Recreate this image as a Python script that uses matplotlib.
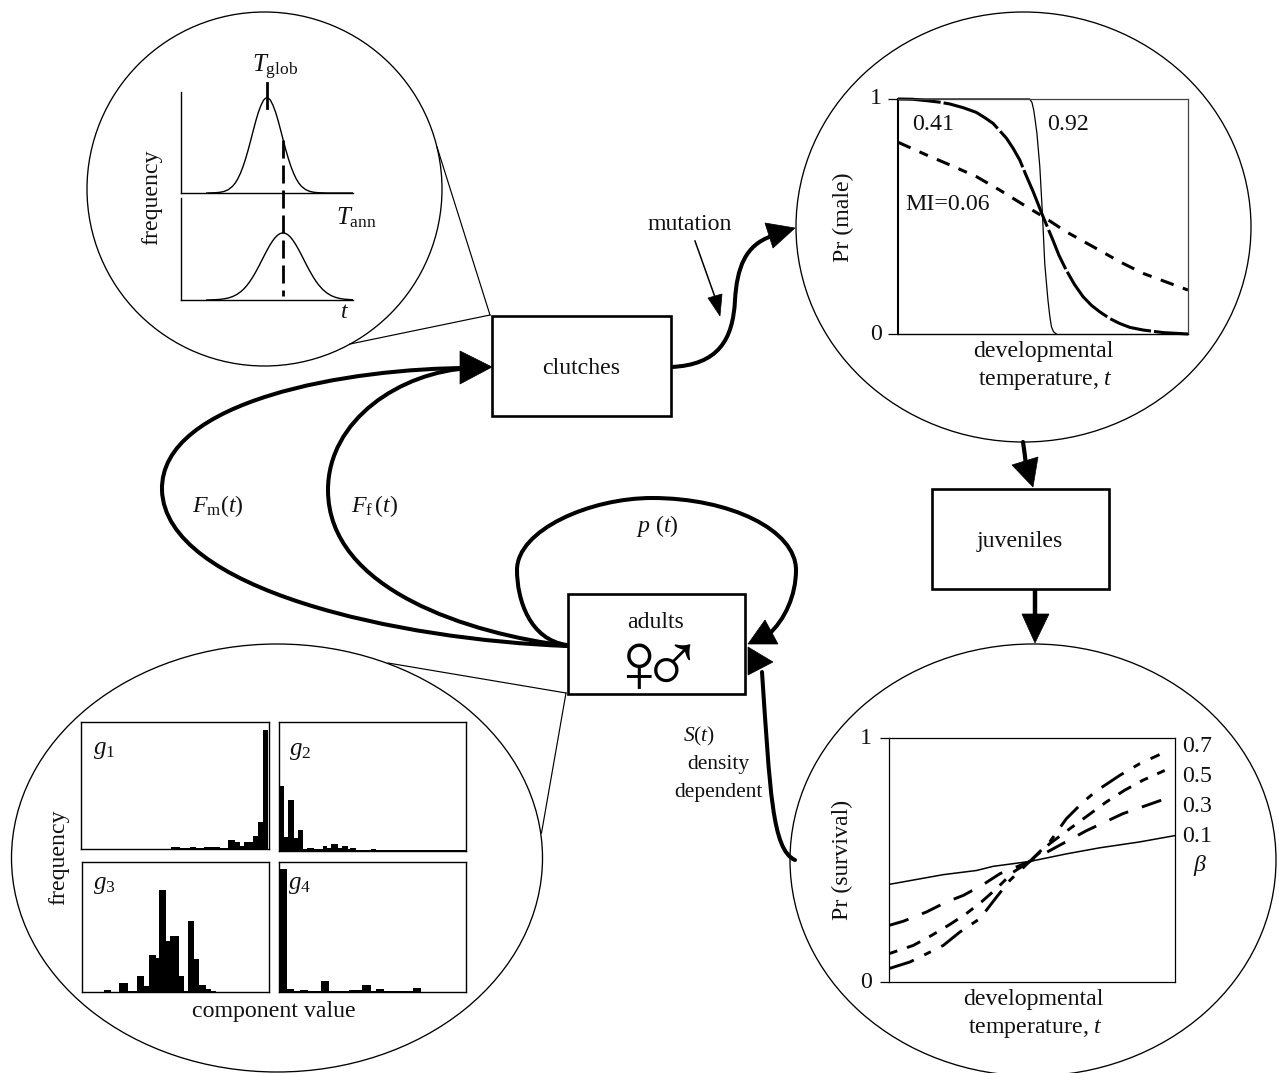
#!/usr/bin/env python

import matplotlib
matplotlib.use("Agg")
import matplotlib.pyplot as plt
from matplotlib.patches import Ellipse, PathPatch, Polygon, Rectangle
from matplotlib.path import Path

plt.rcParams['font.family'] = ['Liberation Serif', 'DejaVu Sans']
plt.rcParams['mathtext.fontset'] = 'custom'
plt.rcParams['mathtext.rm'] = 'Liberation Serif'
plt.rcParams['mathtext.it'] = 'Liberation Serif:italic'
plt.rcParams['mathtext.bf'] = 'Liberation Serif:bold'

W, H = 1279, 1073

# environment curves, t scale 0-100
glob_t = [15, 20, 22.5, 25, 27.5, 30, 31.5, 33, 34.5, 36, 37.5, 39, 40.5, 42, 43.5, 45, 46.5, 48, 49, 50,
          51, 52, 53.5, 55, 56.5, 58, 59.5, 61, 62.5, 64, 65.5, 67, 68.5, 70, 72.5, 75, 77.5, 80, 85, 100]
glob_f = [0, .003, .007, .016, .035, .071, .104, .148, .205, .274, .356, .449, .55, .655, .757, .848, .92, .974, .993, 1,
          .993, .974, .92, .848, .757, .655, .55, .449, .356, .274, .205, .148, .104, .071, .035, .016, .007, .003, 0, 0]
ann_t = [15, 20, 22.5, 25, 27.5, 30, 32.5, 35, 36.5, 38, 39.5, 41, 42.5, 44, 45.5, 47, 48.5, 50, 51.5, 53, 54.5, 56, 57.5, 59,
         60.5, 62, 63.5, 65, 66.5, 68, 69.5, 71, 72.5, 74, 75.5, 77, 78.5, 80, 82.5, 85, 87.5, 90, 92.5, 95, 100]
ann_f = [0, .005, .009, .017, .030, .051, .083, .129, .164, .207, .256, .313, .375, .444, .516, .592, .667, .741, .81, .871, .923, .963, .989, 1,
         .995, .975, .941, .893, .835, .769, .697, .622, .546, .472, .403, .337, .278, .226, .154, .101, .063, .038, .022, .012, .003]

# Pr(male) curves
mi92_x = [0, .454, .462, .468, .473, .479, .489, .498, .506, .517, .523, .529, .536, .546]
mi92_y = [1, 1, .985, .953, .91, .854, .712, .513, .30, .145, .08, .031, .01, 0]
mi41_x = [0, .05, .098, .14, .178, .225, .27, .30, .328, .35, .374, .397, .42, .44, .466, .483, .5, .517, .534, .555,
          .58, .609, .638, .667, .695, .73, .764, .8, .845, .914, 1]
mi41_y = [1, .999, .993, .987, .979, .963, .943, .92, .896, .866, .833, .79, .74, .68, .606, .553, .5, .45, .4, .335,
          .272, .21, .159, .122, .095, .066, .045, .028, .017, .006, 0]
mi06_x = [0, .098, .178, .27, .35, .443, .5, .58, .672, .764, .845, 1]
mi06_y = [.816, .762, .72, .67, .613, .542, .5, .435, .372, .308, .258, .187]

# Pr(survival) curves
b1_x = [0, .19, .306, .364, .492, .62, .737, .876, 1]
b1_y = [.4, .44, .457, .474, .494, .525, .55, .574, .6]
b3_x = [0, .05, .131, .201, .26, .33, .388, .492, .574, .69, .818, .952]
b3_y = [.232, .249, .287, .328, .355, .4, .444, .494, .546, .62, .69, .745]
b5_x = [0, .085, .149, .213, .27, .323, .376, .434, .492, .562, .632, .696, .76, .824, .888, .964]
b5_y = [.116, .15, .191, .236, .28, .328, .383, .45, .494, .567, .628, .683, .738, .786, .827, .867]
b7_x = [0, .073, .132, .19, .248, .318, .376, .423, .492, .562, .62, .679, .725, .807, .877, .946]
b7_y = [.055, .082, .116, .15, .205, .26, .348, .417, .494, .574, .669, .738, .783, .847, .895, .932]

# histograms, component value on a 0-36 scale
g1_edges = [0, 17.2, 19, 20.9, 22, 23.6, 26.6, 28.2, 29.5, 30.4, 31.3, 32.9, 33.8, 34.8, 35.9, 36]
g1_freq = [0, 6, 2, 6, 2, 6, 2, 27, 22, 8, 20, 38, 80, 356, 0]
g2_edges = [0, .9, 1.7, 2.9, 3.7, 4.6, 5.4, 6.7, 8.4, 9.2, 10, 11.3, 12.1, 13.3, 13.7, 14.9, 17.8, 18.7, 36]
g2_freq = [195, 42, 153, 38, 63, 5, 10, 5, 15, 10, 20, 8, 16, 5, 10, 4, 7, 2]
g3_edges = [0, 4.2, 5.5, 7.2, 8.8, 10.6, 11.9, 12.9, 14.2, 14.9, 16.2, 17, 18.6, 19.6, 20.4, 21.5, 22.5, 23.9, 24.9, 25.8, 36]
g3_freq = [0, 6, 1, 27, 3, 48, 17, 111, 103, 309, 153, 168, 48, 2, 215, 100, 22, 10, 4, 0]
g4_edges = [0, 1.5, 2.9, 4, 5.6, 8, 9.6, 13.5, 16, 17.7, 18.7, 20.3, 25.8, 27.4, 36]
g4_freq = [372, 10, 3, 7, 4, 32, 4, 7, 21, 4, 10, 2, 12, 1]

beta_labels = ['0.7', '0.5', '0.3', '0.1']


def inset(x0, y0, x1, y1):
    # axes from pixel box
    a = fig.add_axes([x0 / W, 1 - y1 / H, (x1 - x0) / W, (y1 - y0) / H])
    a.set_facecolor('none')
    return a


def curve(verts, lw):
    codes = [Path.MOVETO] + [Path.CURVE4] * (len(verts) - 1)
    bg.add_patch(PathPatch(Path(verts, codes), fc='none', ec='k', lw=lw, capstyle='round'))


def head(*pts):
    bg.add_patch(Polygon(pts, closed=True, fc='k', ec='k', lw=0.5, zorder=5))


def box(x0, y0, x1, y1):
    bg.add_patch(Rectangle((x0, y0), x1 - x0, y1 - y0, fc='white', ec='k', lw=1.9, zorder=4))


def label(x, y, s, **kw):
    kw.setdefault('fontsize', 17.2)
    bg.text(x, y, s, ha='center', va='center', color='#111111', zorder=6, **kw)


fig = plt.figure(figsize=(W / 100, H / 100), dpi=100)
bg = fig.add_axes([0, 0, 1, 1])
bg.set_xlim(0, W)
bg.set_ylim(H, 0)
bg.axis('off')

# bubbles
for cx, cy, rx, ry in [(264.5, 189, 177.5, 177), (1023.5, 227, 227.5, 215), (1033, 860, 243, 216), (277, 858, 265.5, 214)]:
    bg.add_patch(Ellipse((cx, cy), 2 * rx, 2 * ry, fc='none', ec='k', lw=0.95))

# leader lines
for xs, ys in [((437, 490), (147, 315)), ((350, 490), (344, 315)),
               ((388, 566), (663, 693)), ((541.5, 566), (833, 693))]:
    bg.plot(xs, ys, color='k', lw=0.85)

# boxes
box(492, 316, 671, 416)
box(932, 489, 1109, 589)
box(568, 594, 745, 694)

# arrows
curve([(671, 367), (718, 365), (733, 340), (735, 300), (737, 268), (745, 245), (772, 236)], 2.9)
head((795, 228), (765, 223), (773, 248))
bg.plot([695, 716], [241, 300], color='k', lw=1.1)
head((720, 316), (708, 298), (722, 294))
curve([(568, 646), (400, 640), (165, 590), (162, 490), (160, 400), (350, 368), (470, 368)], 2.9)
curve([(568, 646), (470, 634), (328, 590), (328, 490), (328, 420), (400, 372), (470, 368)], 2.9)
head((492, 367), (460, 351), (460, 384))
curve([(567, 645), (530, 640), (517, 600), (517, 570), (517, 530), (590, 498), (652, 498),
       (730, 498), (796, 530), (796, 570), (796, 595), (785, 620), (768, 635)], 2.9)
head((748, 644), (765, 620), (778, 644))
curve([(795, 860), (772, 850), (770, 790), (762, 672)], 2.9)
head((748, 647), (748, 675), (773, 662))
curve([(1023, 442), (1024, 450), (1025, 455), (1026, 465)], 3.0)
head((1033, 487), (1012, 465), (1038, 457))
bg.plot([1035, 1035], [590, 618], color='k', lw=3.2)
head((1035, 643), (1022, 614), (1049, 614))

# environment panel
ax1 = inset(181, 92, 353, 193)
ax1.plot(glob_t, glob_f, color='k', lw=1.0)
ax1.set_xlim(0, 100)
ax1.set_ylim(0, 1.06)
ax2 = inset(181, 198, 353, 300)
ax2.plot(ann_t, ann_f, color='k', lw=1.0)
ax2.set_xlim(0, 100)
ax2.set_ylim(0, 1.52)
for a in (ax1, ax2):
    a.spines[['top', 'right']].set_visible(False)
    a.set_xticks([])
    a.set_yticks([])
    a.spines[['left', 'bottom']].set_linewidth(1.0)
bg.plot([267, 267], [83, 108], color='k', lw=2.0)
bg.plot([283, 283], [140, 296], color='k', lw=2.0, dashes=(6.5, 2.5))
label(275, 67, r'$T_{\mathrm{glob}}$', fontsize=18)
label(356, 218, r'$T_{\mathrm{ann}}$', fontsize=18)
label(345, 312, r'$t$')
label(152, 197, 'frequency', rotation=90)

# Pr(male)
ax3 = inset(898, 99, 1188, 334)
ax3.plot(mi92_x, mi92_y, color='k', lw=0.9, clip_on=False)
ax3.plot(mi41_x, mi41_y, color='k', lw=2.2, dashes=(14, 1, 20, 1.2), clip_on=False)
ax3.plot(mi06_x, mi06_y, color='k', lw=2.2, dashes=(4.5, 3.2, 3, 3.2))
ax3.set_xlim(0, 1)
ax3.set_ylim(0, 1)
ax3.set_xticks([])
ax3.set_yticks([0, 1])
ax3.set_yticklabels([])
ax3.tick_params(length=7, width=0.9)
ax3.spines[['top', 'right']].set_linewidth(0.9)
ax3.spines['top'].set_color('#444444')
ax3.spines['right'].set_color('#444444')
ax3.spines['left'].set_linewidth(1.5)
ax3.spines['bottom'].set_linewidth(1.0)
label(876, 99, '1')
label(876, 334, '0')
label(843, 217, 'Pr (male)', rotation=90)
label(933, 124, '0.41')
label(1068, 124, '0.92')
label(948, 205, 'MI=0.06')
label(1043, 352, 'developmental')
label(1046, 381, 'temperature, $t$')

# Pr(survival)
ax4 = inset(889, 738, 1175, 982)
ax4.plot(b1_x, b1_y, color='k', lw=1.1)
ax4.plot(b3_x, b3_y, color='k', lw=2.1, dashes=(7, 5))
ax4.plot(b5_x, b5_y, color='k', lw=2.1, dashes=(3, 3.5, 5, 3.5))
ax4.plot(b7_x, b7_y, color='k', lw=2.1, dashes=(9, 4, 2.5, 4))
ax4.set_xlim(0, 1)
ax4.set_ylim(0, 1)
ax4.set_xticks([])
ax4.set_yticks([0, 1])
ax4.set_yticklabels([])
ax4.tick_params(length=6.5, width=0.9)
for s in ax4.spines.values():
    s.set_linewidth(0.9)
label(866, 738, '1')
label(866, 982, '0')
label(842, 860, 'Pr (survival)', rotation=90)
label(1033, 1000, 'developmental')
label(1036, 1029, 'temperature, $t$')
for i, s in enumerate(beta_labels):
    label(1197, [747, 776, 806, 836][i], s)
label(1200, 866, r'$\beta$')

# trait histograms
panels = [((81, 722, 269, 849), g1_edges, g1_freq, 381, r'$g_1$', (104, 750)),
          ((279, 722, 466, 851), g2_edges, g2_freq, 386, r'$g_2$', (300, 751)),
          ((82, 862, 269, 992), g3_edges, g3_freq, 392, r'$g_3$', (104, 885)),
          ((279, 862, 466, 992), g4_edges, g4_freq, 392, r'$g_4$', (300, 885))]
for rect, edges, freq, top, name, pos in panels:
    a = inset(*rect)
    a.stairs(freq, edges, fill=True, color='k', baseline=0)
    a.set_xlim(0, 36)
    a.set_ylim(0, top)
    a.set_xticks([])
    a.set_yticks([])
    for s in a.spines.values():
        s.set_linewidth(1.0)
    label(pos[0], pos[1], name, fontsize=18)
label(59, 857, 'frequency', rotation=90)
label(274, 1011, 'component value')

# box and arrow text
label(581, 368, 'clutches')
label(1020, 541, 'juveniles')
label(656, 622, 'adults')
bg.text(638, 671, '\u2640', family='Liberation Serif', fontsize=62, ha='center', va='center', zorder=6)
bg.text(672, 672, '\u2642', family='Liberation Serif', fontsize=62, ha='center', va='center', zorder=6)
label(690, 225, 'mutation')
label(218, 506, r'$F_{\mathrm{m}}(t)$')
label(375, 506, r'$F_{\mathrm{f}}\,(t)$')
label(657, 526, r'$p\ (t)$')
label(699, 736, r'$S(t)$', fontsize=15.5)
label(718, 765, 'density', fontsize=15.5)
label(718, 793, 'dependent', fontsize=15.5)

fig.savefig("out.png", dpi=100)
plt.close(fig)
